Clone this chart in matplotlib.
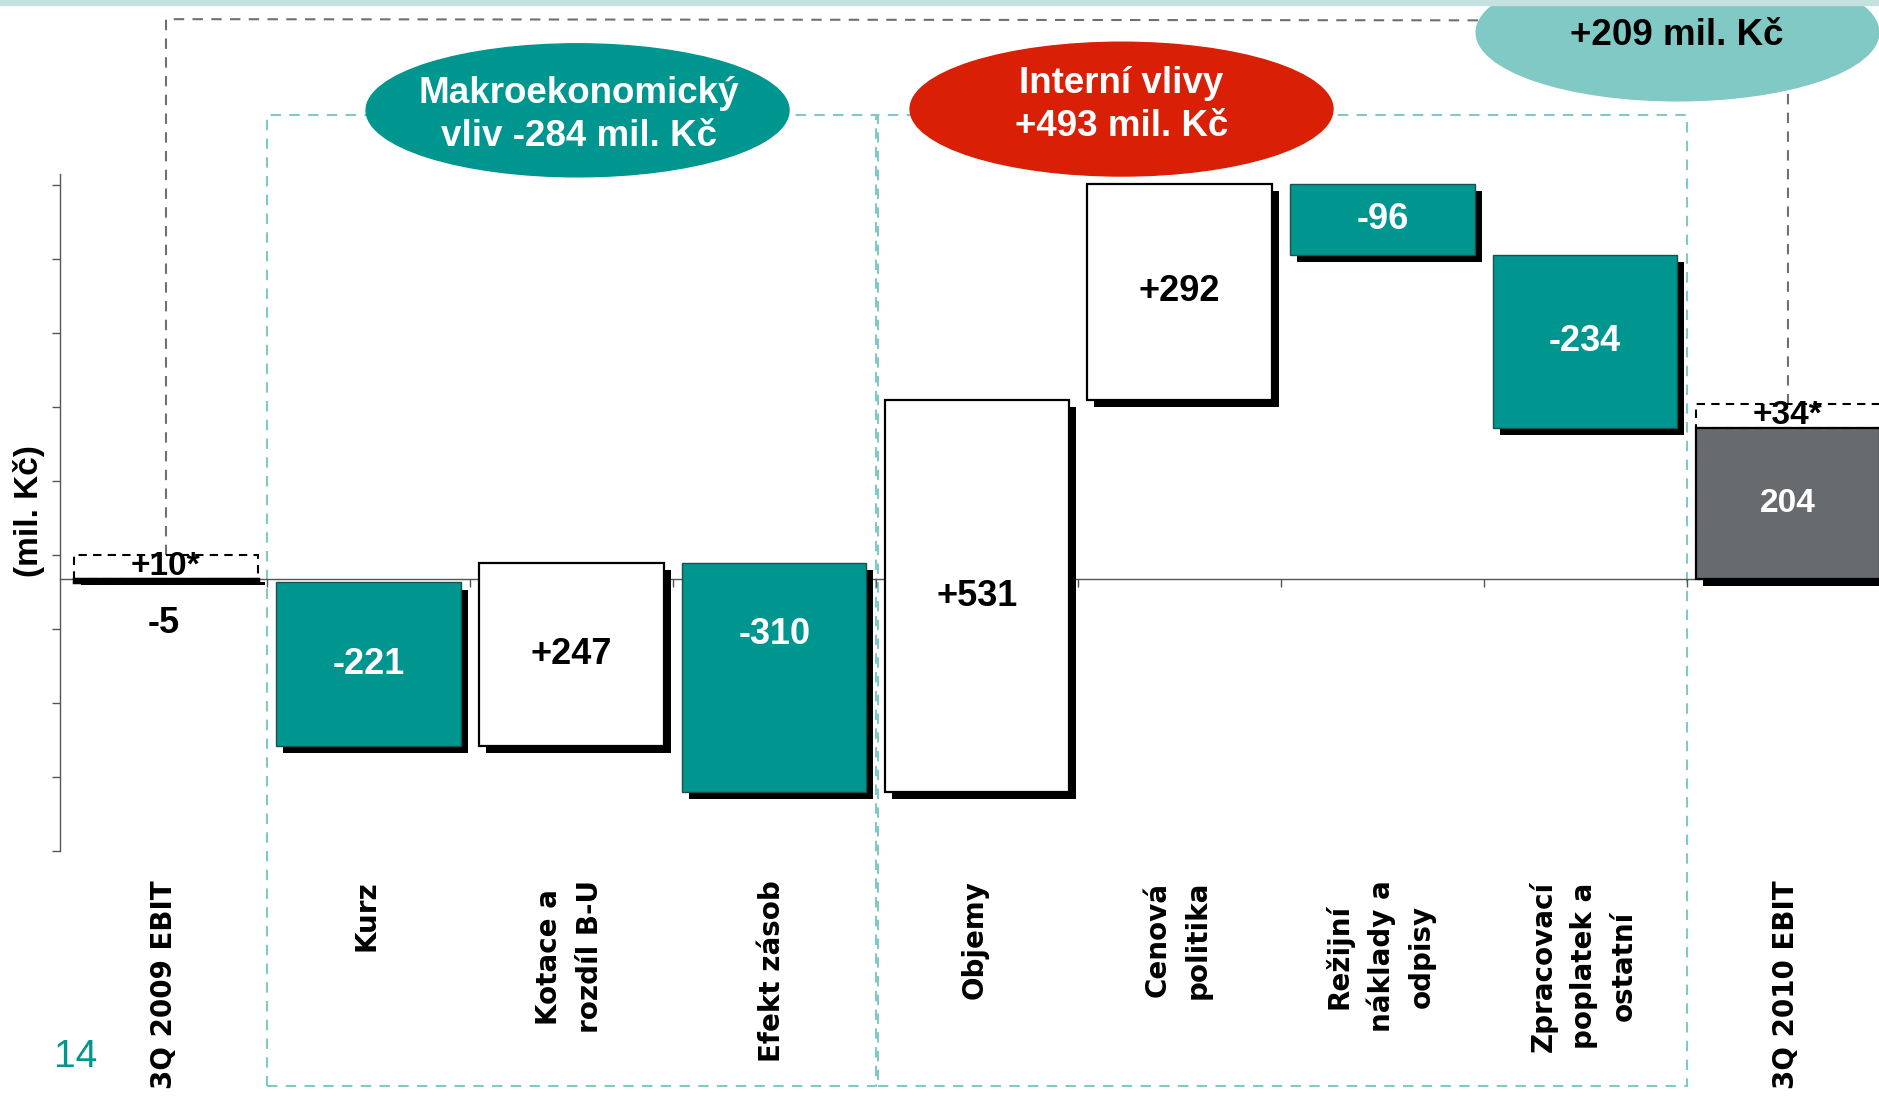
import matplotlib.pyplot as plt
import numpy as np
from matplotlib.patches import Ellipse, Rectangle

# data (mil. Kc)
categories = ["3Q 2009 EBIT", "Kurz", "Kotace a\nrozdíl B-U", "Efekt zásob", "Objemy",
              "Cenová\npolitika", "Režijní\nnáklady a\nodpisy",
              "Zpracovací\npoplatek a\nostatní", "3Q 2010 EBIT"]
start_ebit = -5
deltas = [-221, 247, -310, 531, 292, -96, -234]
adj_start = "+10*"
adj_end = "+34*"
group_texts = ["Makroekonomický\nvliv -284 mil. Kč", "Interní vlivy\n+493 mil. Kč", "+209 mil. Kč"]
page_no = "14"

TEAL = "#009690"
RED = "#D91F05"
LTEAL = "#80C9C5"
GREY = "#676B6D"
NARROW = ["Liberation Sans", "DejaVu Sans"]
WIDE = ["DejaVu Sans"]

end_ebit = start_ebit + sum(deltas)
bottoms = list(np.cumsum([start_ebit] + deltas[:-1]))

fig = plt.figure(figsize=(18.79, 10.96), dpi=100)
ax = fig.add_axes([0, 0, 1, 1])
ax.set_xlim(-0.8187, 8.449)
ax.set_ylim(-699.6, 782.9)
ax.patch.set_alpha(0)

# axes: left spine as value axis, bottom spine as zero line
for s in ["top", "right"]:
    ax.spines[s].set_visible(False)
ax.spines["left"].set_position(("data", -0.524))
ax.spines["left"].set_bounds(-368, 548)
ax.spines["bottom"].set_position(("data", 0))
ax.spines["bottom"].set_bounds(-0.524, 8.449)
for s in ["left", "bottom"]:
    ax.spines[s].set_color("#555555")
    ax.spines[s].set_linewidth(1.0)
    ax.spines[s].set_zorder(1)
ax.set_yticks(np.arange(-368, 540, 100))
ax.set_xticks(np.arange(0.5, 8, 1))
ax.tick_params(axis="both", length=6, width=1, color="#555555",
               labelleft=False, labelbottom=False)

w = 0.91
dx, dy = 0.034, 9.5

def bar(x, b, h, fc, ec, lw, sdy=dy):
    ax.bar(x + dx, h, w, bottom=b - sdy, color="black", zorder=2)
    ax.bar(x, h, w, bottom=b, color=fc, edgecolor=ec, linewidth=lw, zorder=3)

# starting EBIT (thin black bar)
bar(0, 0, start_ebit, "black", "black", 2.5, sdy=4)
ax.text(-0.01, -60, f"{start_ebit}", ha="center", va="center", fontsize=26,
        fontweight="bold", family=NARROW, zorder=5)

# bridge steps
label_pos = [0.5, 0.5, 0.313, 0.5, 0.5, 0.5, 0.5]
for i, (b, d) in enumerate(zip(bottoms, deltas), start=1):
    pos = d > 0
    bar(i, b, d, "white" if pos else TEAL, "black" if pos else "#1d4f4c", 1.6 if pos else 1.0)
    top = b + d if d > 0 else b
    y = top - label_pos[i - 1] * abs(d)
    ax.text(i, y, f"{d:+d}", ha="center", va="center", fontsize=26, fontweight="bold",
            family=NARROW, color="black" if pos else "white", zorder=5)

# final EBIT
bar(8, 0, end_ebit, GREY, "black", 1.6)
ax.text(8, end_ebit / 2, f"{end_ebit}", ha="center", va="center", fontsize=24,
        fontweight="bold", family=NARROW, color="white", zorder=5)

# adjustment boxes (dashed)
box_h = 32
for x, b, t in [(0, 0, adj_start), (8, end_ebit, adj_end)]:
    ax.add_patch(Rectangle((x - w / 2, b), w, box_h, fill=False, ls=(0, (4, 3)),
                           ec="black", lw=1.5, zorder=4, clip_on=False))
    ax.text(x, b + box_h / 2 + 1, t, ha="center", va="center", fontsize=24,
            fontweight="bold", family=NARROW, zorder=5)

# group frames
for x0, x1 in [(0.5, 3.5), (3.514, 7.5)]:
    ax.add_patch(Rectangle((x0, -685.6), x1 - x0, 627.2 + 685.6, fill=False,
                           ec=LTEAL, lw=1.5, ls=(0, (5, 4)), zorder=1))

# total connector
ax.plot([0, 0, 8, 8], [box_h, 757, 755, end_ebit + box_h], color="#707070",
        lw=1.5, ls=(0, (5, 4)), zorder=1)

# group bubbles
ax.add_patch(Ellipse((2.030, 633.7), 2.086, 180, color=TEAL, zorder=6))
ax.text(2.036, 627, group_texts[0], ha="center", va="center", fontsize=26.5,
        fontweight="bold", family=NARROW, color="white", linespacing=1.3, zorder=7)
ax.add_patch(Ellipse((4.713, 635.3), 2.086, 181, color=RED, zorder=6))
ax.text(4.713, 641, group_texts[1], ha="center", va="center", fontsize=26.5,
        fontweight="bold", family=NARROW, color="white", linespacing=1.3, zorder=7)
ax.add_patch(Ellipse((7.455, 739), 1.986, 185, color=LTEAL, zorder=6, clip_on=False))
ax.text(7.45, 735, group_texts[2], ha="center", va="center", fontsize=26.5,
        fontweight="bold", family=NARROW, color="black", zorder=7)

# category labels
for i, c in enumerate(categories):
    ax.text(i - 0.01, -408, c, rotation=90, rotation_mode="anchor", ha="right",
            va="center", multialignment="center", fontsize=20, fontweight="heavy",
            family=WIDE, linespacing=1.55)

ax.text(-0.677, 91, "(mil. Kč)", rotation=90, ha="center", va="center", fontsize=24,
        fontweight="bold", family=NARROW)
ax.text(-0.446, -647, page_no, ha="center", va="center", fontsize=28,
        family=NARROW, color=TEAL)

# thin band along the top edge
fig.patches.append(Rectangle((0, 1 - 5 / 1096), 1, 5 / 1096, transform=fig.transFigure,
                             color="#C6E2E0", zorder=0))

fig.savefig("out.png", dpi=100)
